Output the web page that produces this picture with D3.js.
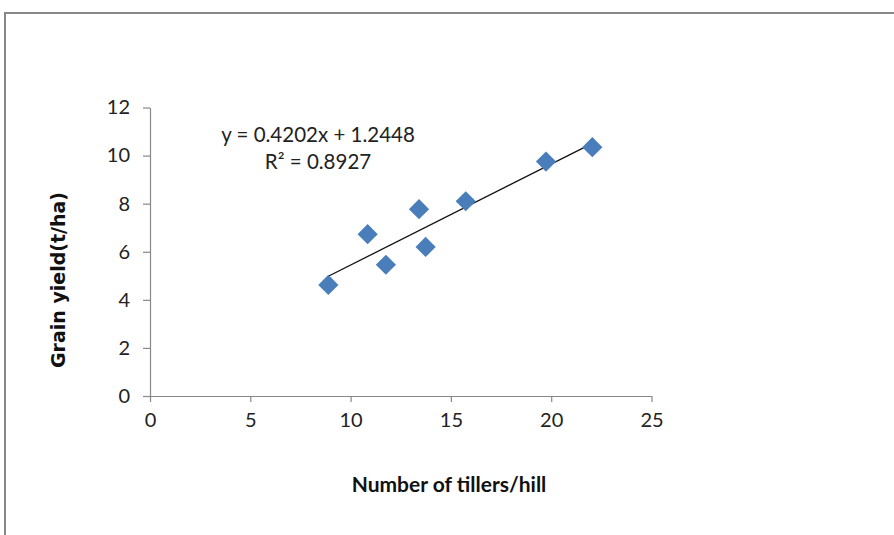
<!DOCTYPE html>
<html>
<head>
<meta charset="utf-8">
<script src="https://cdn.jsdelivr.net/npm/d3@7"></script>
<style>
body { margin: 0; background: #fff; }
svg { display: block; }
</style>
</head>
<body>
<svg id="chart" width="894" height="535"></svg>
<script>
// data
var tillers = [8.89, 10.85, 11.76, 13.41, 13.74, 15.74, 19.74, 22.05];
var yieldVals = [4.62, 6.73, 5.46, 7.77, 6.20, 8.10, 9.75, 10.35];
var xTicks = [0, 5, 10, 15, 20, 25];
var yTicks = [0, 2, 4, 6, 8, 10, 12];
var slope = 0.4202, intercept = 1.2448;
var eqLabel = "y = 0.4202x + 1.2448";
var r2Label = "R² = 0.8927";

var svg = d3.select("#chart");
var font = "Lato, sans-serif";

// outer frame of the chart area
svg.append("path")
	.attr("d", "M5,535 V13 H894")
	.attr("fill", "none")
	.attr("stroke", "#888")
	.attr("stroke-width", 2);

var x = d3.scaleLinear().domain([0, 25]).range([150, 651.5]);
var y = d3.scaleLinear().domain([0, 12]).range([396, 107.5]);

var xAxis = svg.append("g")
	.attr("transform", "translate(0,396)")
	.call(d3.axisBottom(x).tickValues(xTicks).tickSize(6).tickPadding(11).tickSizeOuter(0));

var yAxis = svg.append("g")
	.attr("transform", "translate(150,0)")
	.call(d3.axisLeft(y).tickValues(yTicks).tickSize(7).tickPadding(13).tickSizeOuter(0));

[xAxis, yAxis].forEach(function(a) {
	a.attr("font-size", null).attr("font-family", null);
	a.select(".domain").attr("stroke", "#888").attr("stroke-width", 1.2);
	a.selectAll(".tick line").attr("stroke", "#888").attr("stroke-width", 1.2);
	a.selectAll(".tick text")
		.attr("fill", "#222")
		.style("font-family", font)
		.style("font-size", "20px");
});

// trend line over the data range
var xr = d3.extent(tillers);
svg.append("line")
	.attr("x1", x(xr[0])).attr("y1", y(slope * xr[0] + intercept))
	.attr("x2", x(xr[1])).attr("y2", y(slope * xr[1] + intercept))
	.attr("stroke", "#111")
	.attr("stroke-width", 1.3);

var diamond = d3.symbol().type(d3.symbolDiamond2).size(260);
svg.append("g")
	.selectAll("path")
	.data(tillers)
	.enter()
	.append("path")
	.attr("transform", function(d, i) { return "translate(" + x(d) + "," + y(yieldVals[i]) + ")"; })
	.attr("d", diamond)
	.attr("fill", "#4a7ebb");

svg.append("text")
	.attr("x", 318).attr("y", 142)
	.attr("text-anchor", "middle")
	.style("font-family", font).style("font-size", "20.5px").attr("fill", "#222")
	.text(eqLabel);

svg.append("text")
	.attr("x", 318).attr("y", 169)
	.attr("text-anchor", "middle")
	.style("font-family", font).style("font-size", "20.5px").attr("fill", "#222")
	.text(r2Label);

svg.append("text")
	.attr("x", 449).attr("y", 492)
	.attr("text-anchor", "middle")
	.style("font-family", font).style("font-size", "21px").style("font-weight", "bold")
	.attr("fill", "#111")
	.text("Number of tillers/hill");

svg.append("text")
	.attr("transform", "translate(65,280) rotate(-90)")
	.attr("text-anchor", "middle")
	.style("font-family", "'DejaVu Sans', Verdana, sans-serif").style("font-size", "19px").style("font-weight", "bold")
	.attr("fill", "#111")
	.text("Grain yield(t/ha)");
</script>
</body>
</html>
